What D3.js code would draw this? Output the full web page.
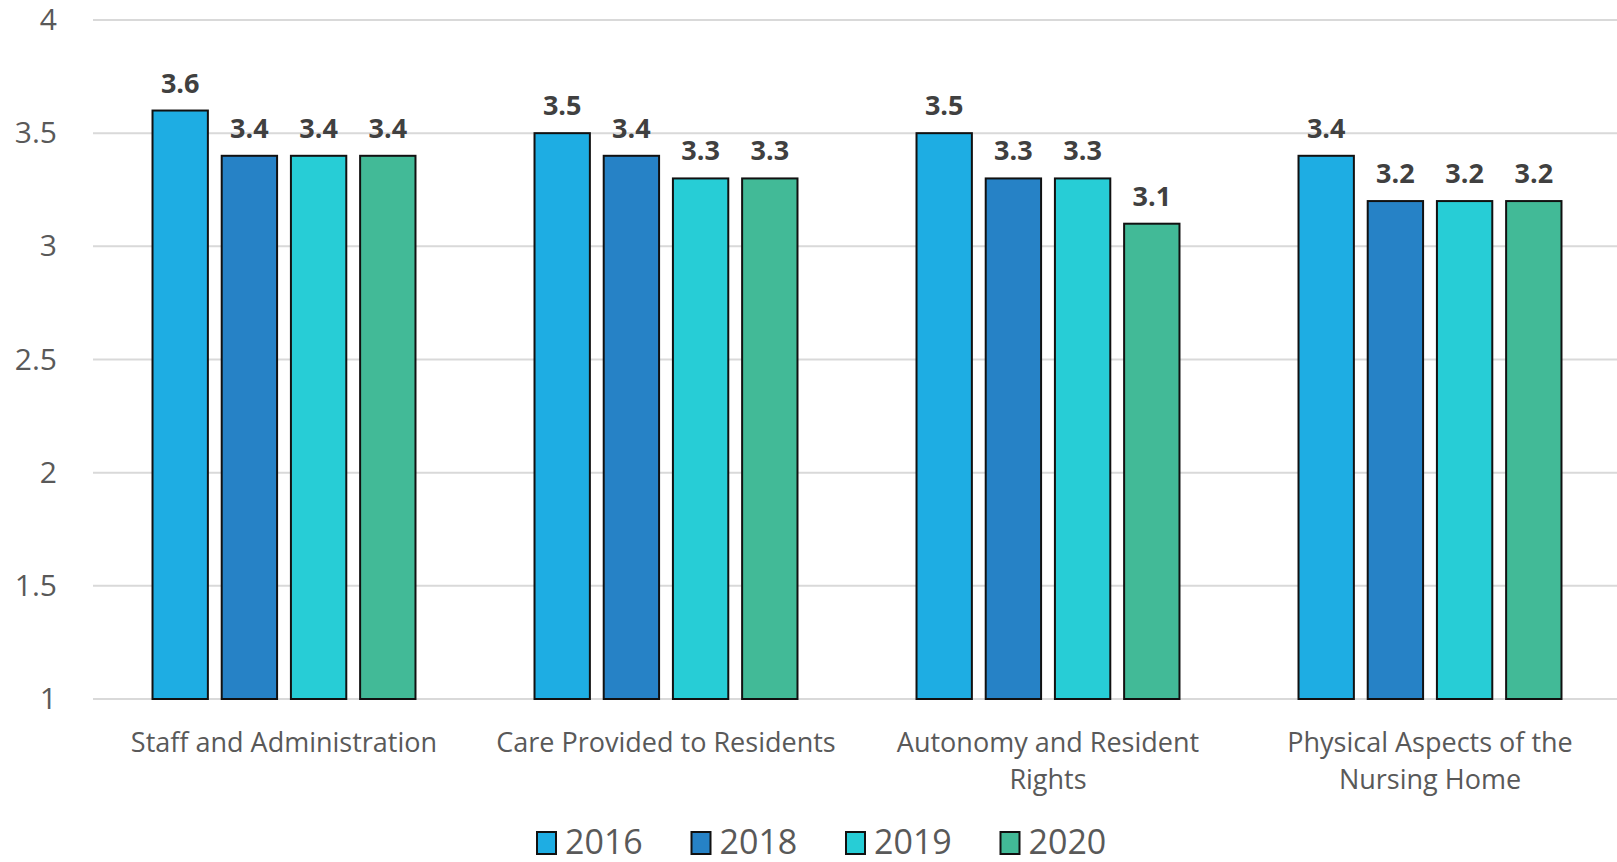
<!DOCTYPE html>
<html>
<head>
<meta charset="utf-8">
<script src="https://cdn.jsdelivr.net/npm/d3@7"></script>
<style>
  body { margin: 0; background: #fff; }
  svg { display: block; font-family: "Open Sans", sans-serif; }
</style>
</head>
<body>
<svg id="chart"></svg>
<script>
// chart data
const categories = ["Staff and Administration", "Care Provided to Residents", "Autonomy and Resident Rights", "Physical Aspects of the Nursing Home"];
const years = ["2016", "2018", "2019", "2020"];
const values2016 = [3.6, 3.5, 3.5, 3.4];
const values2018 = [3.4, 3.4, 3.3, 3.2];
const values2019 = [3.4, 3.3, 3.3, 3.2];
const values2020 = [3.4, 3.3, 3.1, 3.2];
const yTicks = [1, 1.5, 2, 2.5, 3, 3.5, 4];

const seriesValues = [values2016, values2018, values2019, values2020];
const yearColors = ["#1EADE3", "#2682C6", "#27CDD6", "#42BA97"];

const width = 1617, height = 862;
const margin = {top: 20, right: -4, bottom: 163, left: 93};

const svg = d3.select("#chart")
    .attr("width", width)
    .attr("height", height);

const x0 = d3.scaleBand()
    .domain(categories)
    .range([margin.left, width - margin.right])
    .padding(0);

const x1 = d3.scaleBand()
    .domain(years)
    .range([0, x0.bandwidth()])
    .paddingInner(0.2)
    .paddingOuter(0.86);

const y = d3.scaleLinear()
    .domain([1, 4])
    .range([height - margin.bottom, margin.top]);

// gridlines
svg.append("g")
    .selectAll("line")
    .data(yTicks)
    .enter().append("line")
    .attr("x1", margin.left)
    .attr("x2", width)
    .attr("y1", d => y(d))
    .attr("y2", d => y(d))
    .attr("stroke", "#d9d9d9")
    .attr("stroke-width", 2);

// y axis labels
const yAxis = svg.append("g")
    .attr("transform", `translate(${margin.left},0)`)
    .call(d3.axisLeft(y).tickValues(yTicks).tickSize(0).tickPadding(36).tickFormat(d3.format("")));
yAxis.select(".domain").remove();
yAxis.selectAll("text")
    .attr("fill", "#595959")
    .style("font-size", "30px")
    .style("font-family", "'Open Sans', sans-serif");

// bars
const groups = svg.append("g")
    .selectAll("g")
    .data(categories)
    .enter().append("g")
    .attr("transform", d => `translate(${x0(d)},0)`);

groups.each(function(cat, ci) {
    const g = d3.select(this);
    const rows = years.map((yr, si) => ({year: yr, value: seriesValues[si][ci], color: yearColors[si]}));

    g.selectAll("rect")
        .data(rows)
        .enter().append("rect")
        .attr("x", d => x1(d.year))
        .attr("y", d => y(d.value))
        .attr("width", x1.bandwidth())
        .attr("height", d => y(1) - y(d.value))
        .attr("fill", d => d.color)
        .attr("stroke", "#111")
        .attr("stroke-width", 2);

    g.selectAll("text.val")
        .data(rows)
        .enter().append("text")
        .attr("class", "val")
        .attr("x", d => x1(d.year) + x1.bandwidth() / 2)
        .attr("y", d => y(d.value) - 18)
        .attr("text-anchor", "middle")
        .attr("fill", "#404040")
        .attr("font-weight", "bold")
        .attr("font-size", "27px")
        .text(d => d.value.toFixed(1));
});

// category labels, wrapped
const catLabels = svg.append("g")
    .selectAll("text")
    .data(categories)
    .enter().append("text")
    .attr("x", d => x0(d) + x0.bandwidth() / 2)
    .attr("y", y(1) + 53)
    .attr("text-anchor", "middle")
    .attr("fill", "#595959")
    .attr("font-size", "27px");

catLabels.each(function(d) {
    const text = d3.select(this);
    const words = d.split(" ");
    const maxW = 360;
    let line = [];
    let tspan = text.append("tspan").attr("x", text.attr("x")).attr("dy", 0);
    words.forEach(w => {
        line.push(w);
        tspan.text(line.join(" "));
        if (tspan.node().getComputedTextLength() > maxW && line.length > 1) {
            line.pop();
            tspan.text(line.join(" "));
            line = [w];
            tspan = text.append("tspan").attr("x", text.attr("x")).attr("dy", 37).text(w);
        }
    });
});

// legend
const legendX = d3.scaleBand()
    .domain(years)
    .range([537, 1155]);

const legend = svg.append("g")
    .selectAll("g")
    .data(years)
    .enter().append("g")
    .attr("transform", d => `translate(${legendX(d)},832)`);

legend.append("rect")
    .attr("width", 19)
    .attr("height", 22)
    .attr("fill", (d, i) => yearColors[i])
    .attr("stroke", "#111")
    .attr("stroke-width", 2);

legend.append("text")
    .attr("x", 28)
    .attr("y", 22)
    .attr("fill", "#595959")
    .attr("font-size", "34px")
    .text(d => d);
</script>
</body>
</html>
